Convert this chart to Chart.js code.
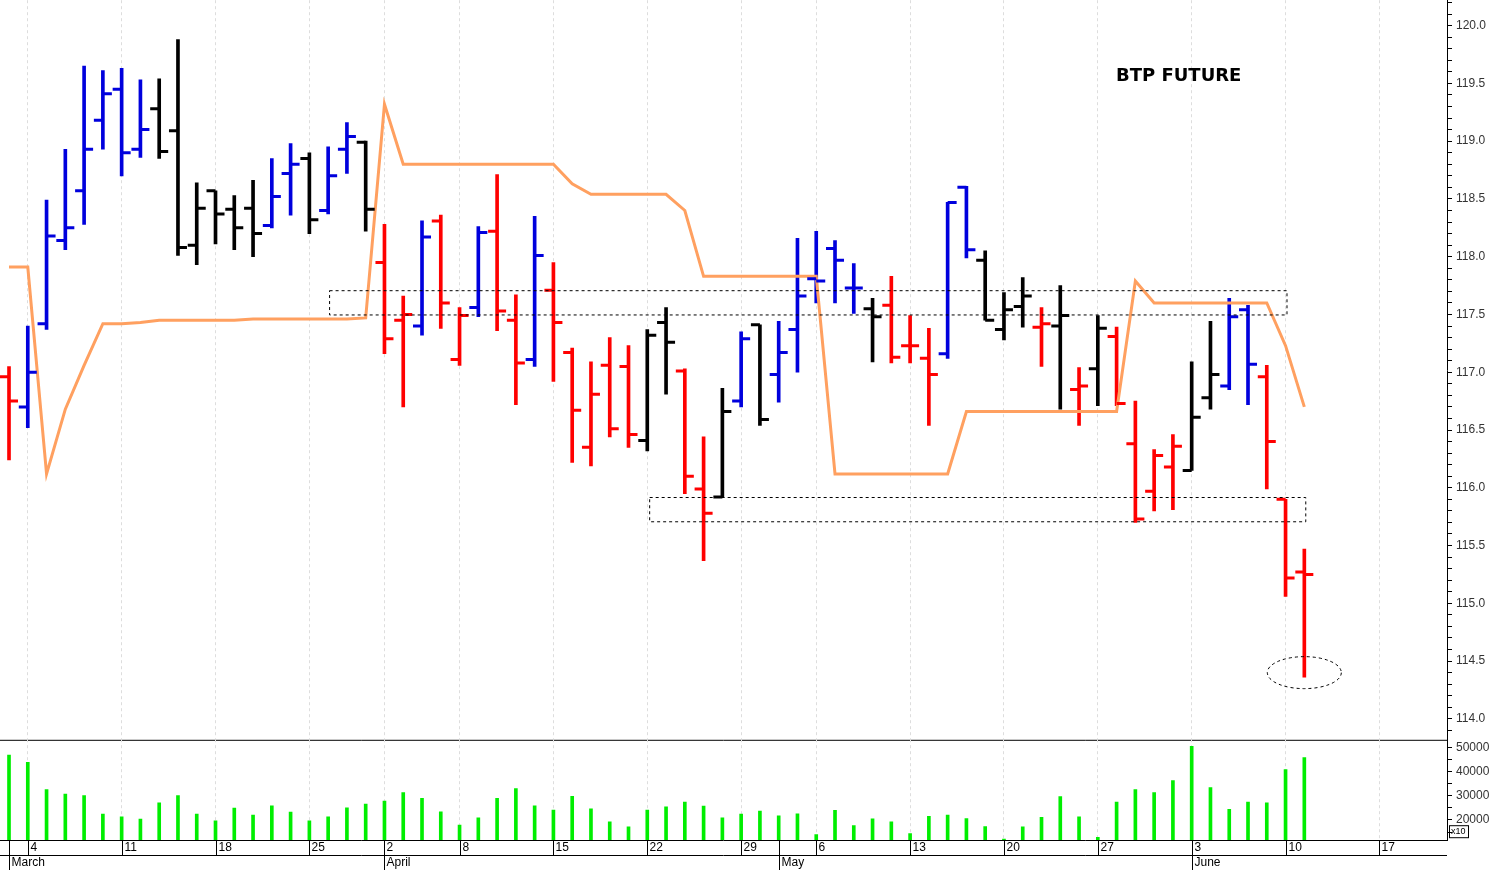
<!DOCTYPE html>
<html>
<head>
<meta charset="utf-8">
<script src="https://cdn.jsdelivr.net/npm/chart.js@4.4.1/dist/chart.umd.min.js"></script>
<style>
  body { margin: 0; background: #fff; overflow: hidden; }
  #top { position: absolute; left: 0; top: -11px; width: 1495px; height: 763px; }
  #bot { position: absolute; left: 0; top: 728px; width: 1495px; height: 142px; }
</style>
</head>
<body>
<div id="top"><canvas id="priceChart"></canvas></div>
<div id="bot"><canvas id="volChart"></canvas></div>
<script>
// trading days from 1 March to 11 June, index = position on the axis
var opens  = [116.96,116.70,117.42,118.14,118.57,119.18,119.45,118.93,119.28,119.09,118.10,118.57,118.41,118.42,118.27,118.72,118.85,118.40,118.93,118.99,
              117.95,117.45,117.40,118.31,117.11,117.56,118.22,117.45,117.11,117.71,117.17,116.35,117.06,117.05,116.41,117.43,117.01,115.99,115.92,116.75,
              117.41,116.98,117.37,117.81,118.07,117.73,117.55,117.58,117.23,117.12,117.16,118.60,117.97,117.37,117.57,117.39,117.40,116.85,117.03,117.31,
              116.38,115.97,116.18,116.15,116.78,116.88,117.54,116.96,115.90,115.27];
var highs  = [117.05,117.40,118.49,118.93,119.65,119.61,119.63,119.53,119.54,119.88,118.64,118.57,118.53,118.66,118.85,118.98,118.90,118.95,119.16,119.00,
              118.28,117.66,118.31,118.36,117.56,118.26,118.71,117.67,118.35,117.95,117.21,117.09,117.30,117.23,117.37,117.56,117.03,116.44,116.86,117.35,
              117.41,117.44,118.16,118.22,118.14,117.94,117.64,117.83,117.49,117.38,118.47,118.61,118.05,117.69,117.82,117.56,117.75,117.04,117.49,117.39,
              116.75,116.33,116.46,117.09,117.44,117.64,117.58,117.06,115.90,115.47];
var lows   = [116.24,116.52,117.37,118.06,118.28,118.93,118.70,118.86,118.85,118.01,117.93,118.11,118.06,118.00,118.25,118.36,118.20,118.37,118.72,118.22,
              117.16,116.70,117.32,117.38,117.06,117.48,117.36,116.72,117.05,116.92,116.22,116.19,116.44,116.35,116.32,116.81,115.95,115.37,115.92,116.70,
              116.54,116.74,117.00,117.60,117.60,117.51,117.09,117.08,117.08,116.54,117.12,117.99,117.45,117.28,117.39,117.05,116.68,116.54,116.71,116.71,
              115.70,115.80,115.81,116.15,116.68,116.85,116.72,115.99,115.06,114.36];
var closes = [116.75,117.00,118.18,118.25,118.93,119.41,118.90,119.10,118.91,118.08,118.42,118.37,118.25,118.20,118.52,118.80,118.32,118.70,119.04,118.41,
              117.29,117.50,118.17,117.60,117.49,118.21,117.53,117.08,118.01,117.43,116.67,116.81,116.51,116.46,117.32,117.26,116.10,115.78,116.66,117.29,
              116.59,117.17,117.66,117.79,117.97,117.73,117.48,117.13,117.23,116.98,118.47,118.06,117.45,117.54,117.66,117.42,117.49,116.88,117.38,116.73,
              115.73,116.28,116.36,116.61,116.98,117.48,117.07,116.40,115.22,115.25];
// r = red, b = blue, k = black
var barTone = "rbbbbbbbkkkkkkbbkbbkrrbrrbrrbrrrrrkkrrkbkbbbbbkrrrbbkkkrkrkrrrrkkbbrrr";
var sar = [117.91,117.91,116.12,116.68,117.06,117.42,117.42,117.43,117.45,117.45,117.45,117.45,117.45,117.46,117.46,117.46,117.46,117.46,117.46,117.47,
           119.32,118.80,118.80,118.80,118.80,118.80,118.80,118.80,118.80,118.80,118.63,118.54,118.54,118.54,118.54,118.54,118.40,117.83,117.83,117.83,
           117.83,117.83,117.83,117.83,116.12,116.12,116.12,116.12,116.12,116.12,116.12,116.66,116.66,116.66,116.66,116.66,116.66,116.66,116.66,116.66,
           117.79,117.60,117.60,117.60,117.60,117.60,117.60,117.60,117.23,116.70];
var volume = [46700,43750,32500,30700,30000,22400,21250,20300,27000,30000,22400,19600,24900,22000,25800,23200,19600,21250,25000,26500,
              27800,31250,28900,23300,17900,20800,28900,32900,25800,24000,29700,24600,19200,17100,24000,25400,27400,25700,20800,22400,
              23600,21700,22500,13900,23900,17600,20400,19200,14300,21500,22000,20500,17200,12100,17100,21100,29600,21250,12800,27400,
              32500,31250,36250,50400,33300,24400,27400,27000,40800,45700];
var weekTicks  = [1, 6, 11, 16, 20, 24, 29, 34, 39, 43, 48, 53, 58, 63, 68, 73];
var weekLabels = ["4","11","18","25","2","8","15","22","29","6","13","20","27","3","10","17"];
var monthStart = [0, 20, 41, 63];
var monthNames = ["March","April","May","June"];

var xMin = -0.48, xMax = 76.6;
var toneColor = { r: "#ff0000", b: "#0000dd", k: "#000000" };
var colors = barTone.split("").map(function(t) { return toneColor[t]; });
var idx = sar.map(function(v, i) { return i; });

function rightAxisWidth(axis) { axis.width = 48; }

var ohlcTicks = {
  id: "ohlcTicks",
  afterDatasetsDraw: function(chart) {
    var x = chart.scales.x, y = chart.scales.y, c = chart.ctx;
    c.save();
    c.lineWidth = 3;
    for (var i = 0; i < opens.length; i++) {
      var px = x.getPixelForValue(i);
      c.strokeStyle = colors[i];
      c.beginPath();
      c.moveTo(px - 9, y.getPixelForValue(opens[i]));
      c.lineTo(px, y.getPixelForValue(opens[i]));
      c.moveTo(px, y.getPixelForValue(closes[i]));
      c.lineTo(px + 9, y.getPixelForValue(closes[i]));
      c.stroke();
    }
    // dashed boxes and ring
    c.lineWidth = 1;
    c.strokeStyle = "#000";
    c.setLineDash([3, 3]);
    [[17.05, 68.05, 117.71, 117.50], [34.1, 69.05, 115.92, 115.71]].forEach(function(r) {
      var x1 = x.getPixelForValue(r[0]), x2 = x.getPixelForValue(r[1]);
      var y1 = y.getPixelForValue(r[2]), y2 = y.getPixelForValue(r[3]);
      c.strokeRect(x1 + 0.5, y1 + 0.5, x2 - x1, y2 - y1);
    });
    c.beginPath();
    c.ellipse(x.getPixelForValue(69), y.getPixelForValue(114.40), 37, 16, 0, 0, Math.PI * 2);
    c.stroke();
    c.setLineDash([]);
    c.fillStyle = "#000";
    c.font = "bold 18px 'DejaVu Sans', sans-serif";
    c.fillText("BTP FUTURE", 1116, chart.chartArea.top + 81);
    // frame
    c.beginPath();
    c.moveTo(0, chart.chartArea.bottom - 0.5);
    c.lineTo(chart.chartArea.right, chart.chartArea.bottom - 0.5);
    c.stroke();
    c.restore();
  }
};

new Chart(document.getElementById("priceChart"), {
  data: {
    labels: idx,
    datasets: [{
      type: "bar",
      data: idx.map(function(i) { return { x: i, y: [lows[i], highs[i]] }; }),
      backgroundColor: colors,
      barThickness: 3,
      order: 2
    }, {
      type: "line",
      data: idx.map(function(i) { return { x: i, y: sar[i] }; }),
      borderColor: "#ffa060",
      borderWidth: 3,
      pointRadius: 0,
      tension: 0,
      order: 1
    }]
  },
  options: {
    responsive: true, maintainAspectRatio: false, animation: false,
    layout: { padding: 0 },
    plugins: { legend: { display: false }, tooltip: { enabled: false } },
    scales: {
      x: {
        type: "linear", min: xMin, max: xMax, offset: false,
        afterBuildTicks: function(a) { a.ticks = weekTicks.map(function(v) { return { value: v }; }); },
        ticks: { display: false },
        grid: { color: "#dddddd", drawTicks: false, offset: false },
        border: { display: false, dash: [3, 3] }
      },
      y: {
        position: "right", min: 113.81, max: 120.22,
        afterFit: rightAxisWidth,
        afterBuildTicks: function(a) {
          var t = [];
          for (var v = 113.9; v <= 120.2; v += 0.1) t.push({ value: Math.round(v * 10) / 10 });
          a.ticks = t;
        },
        ticks: {
          autoSkip: false,
          color: "#333", font: { size: 12, family: "Arial, 'Liberation Sans', sans-serif" }, padding: 4,
          callback: function(v) { return Math.abs(v * 2 - Math.round(v * 2)) < 0.001 ? v.toFixed(1) : ""; }
        },
        grid: { display: true, drawOnChartArea: false, color: "#000", tickLength: 5 },
        border: { color: "#000" }
      }
    }
  },
  plugins: [ohlcTicks]
});

var dateAxis = {
  id: "dateAxis",
  afterDraw: function(chart) {
    var x = chart.scales.x, c = chart.ctx, b = chart.chartArea.bottom, r = chart.chartArea.right;
    c.save();
    c.strokeStyle = "#000";
    c.lineWidth = 1;
    c.beginPath();
    c.moveTo(0, b + 0.5); c.lineTo(r, b + 0.5);
    c.moveTo(0, b + 15.5); c.lineTo(r, b + 15.5);
    c.stroke();
    c.fillStyle = "#000";
    c.font = "12px Arial, 'Liberation Sans', sans-serif";
    c.textBaseline = "top";
    weekTicks.forEach(function(v, k) {
      var px = Math.round(x.getPixelForValue(v)) + 0.5;
      c.beginPath(); c.moveTo(px, b); c.lineTo(px, b + 15); c.stroke();
      c.fillText(weekLabels[k], px + 2, b + 2);
    });
    monthStart.forEach(function(v, k) {
      var px = Math.round(x.getPixelForValue(v)) + 0.5;
      c.beginPath(); c.moveTo(px, b); c.lineTo(px, b + 30); c.stroke();
      c.fillText(monthNames[k], px + 2, b + 17);
    });
    c.strokeRect(1449.5, chart.chartArea.top + 86.5, 19, 12);
    c.font = "9px Arial, 'Liberation Sans', sans-serif";
    c.fillText("x10", 1451, chart.chartArea.top + 88);
    c.restore();
  }
};

new Chart(document.getElementById("volChart"), {
  type: "bar",
  data: {
    labels: idx,
    datasets: [{
      data: idx.map(function(i) { return { x: i, y: volume[i] }; }),
      backgroundColor: "#00ee00",
      barThickness: 3
    }]
  },
  options: {
    responsive: true, maintainAspectRatio: false, animation: false,
    layout: { padding: { bottom: 30 } },
    plugins: { legend: { display: false }, tooltip: { enabled: false } },
    scales: {
      x: {
        type: "linear", min: xMin, max: xMax, offset: false,
        afterBuildTicks: function(a) { a.ticks = weekTicks.map(function(v) { return { value: v }; }); },
        ticks: { display: false },
        grid: { color: "#dddddd", drawTicks: false, offset: false },
        border: { display: false, dash: [3, 3] }
      },
      y: {
        position: "right", min: 11700, max: 53300,
        afterFit: rightAxisWidth,
        afterBuildTicks: function(a) {
          var t = [];
          for (var v = 15000; v <= 50000; v += 5000) t.push({ value: v });
          a.ticks = t;
        },
        ticks: {
          autoSkip: false,
          color: "#333", font: { size: 12, family: "Arial, 'Liberation Sans', sans-serif" }, padding: 4,
          callback: function(v) { return v % 10000 === 0 ? String(v) : ""; }
        },
        grid: { display: true, drawOnChartArea: false, color: "#000", tickLength: 5 },
        border: { color: "#000" }
      }
    }
  },
  plugins: [dateAxis]
});
</script>
</body>
</html>
